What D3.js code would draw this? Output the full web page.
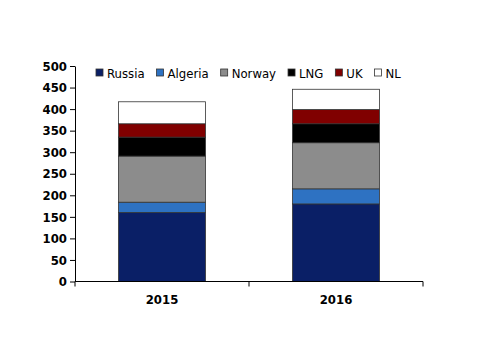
<!DOCTYPE html>
<html>
<head>
<meta charset="utf-8">
<script src="https://cdn.jsdelivr.net/npm/d3@7"></script>
<style>
  body { margin: 0; background: #fff; }
  text { font-family: "DejaVu Sans Condensed", "DejaVu Sans", sans-serif; }
</style>
</head>
<body>
<div id="chart"></div>
<script>
// categories and series
const years = ["2015", "2016"];
const sources = ["Russia", "Algeria", "Norway", "LNG", "UK", "NL"];
const russia = [160, 180];
const algeria = [24, 35];
const norway = [107, 107];
const lng = [44, 44];
const uk = [31, 33];
const nl = [51, 47];
const yTicks = [0, 50, 100, 150, 200, 250, 300, 350, 400, 450, 500];
const colors = ["#0a1f66", "#2e72c2", "#8c8c8c", "#000000", "#800000", "#ffffff"];

const width = 500, height = 354;
const margin = { top: 66, right: 77, bottom: 72, left: 75 };

const svg = d3.select("#chart").append("svg")
  .attr("width", width)
  .attr("height", height);

const rows = years.map((y, i) => ({
  year: y,
  Russia: russia[i], Algeria: algeria[i], Norway: norway[i],
  LNG: lng[i], UK: uk[i], NL: nl[i]
}));

const stacked = d3.stack().keys(sources)(rows);

const x = d3.scaleBand()
  .domain(years)
  .range([margin.left, width - margin.right])
  .paddingInner(0.5)
  .paddingOuter(0.25);

const y = d3.scaleLinear()
  .domain([0, 500])
  .range([height - margin.bottom - 0.5, margin.top]);

const color = d3.scaleOrdinal().domain(sources).range(colors);

// bars
svg.append("g")
  .selectAll("g")
  .data(stacked)
  .join("g")
  .attr("fill", d => color(d.key))
  .selectAll("rect")
  .data(d => d)
  .join("rect")
  .attr("x", d => x(d.data.year))
  .attr("y", d => y(d[1]))
  .attr("width", x.bandwidth())
  .attr("height", d => y(d[0]) - y(d[1]))
  .attr("stroke", "#333")
  .attr("stroke-width", 0.8);

// y axis
const yAxis = svg.append("g")
  .attr("transform", `translate(${margin.left},0)`)
  .call(d3.axisLeft(y).tickValues(yTicks).tickSize(5).tickSizeOuter(0));
yAxis.select(".domain").attr("stroke", "#000");
yAxis.selectAll("text")
  .attr("font-size", 13)
  .attr("font-weight", "bold")
  .attr("fill", "#000")
  .attr("x", -8);

// x axis with ticks between categories
const x0 = height - margin.bottom - 0.5;
const xAxis = svg.append("g");
xAxis.append("line")
  .attr("x1", margin.left).attr("x2", width - margin.right)
  .attr("y1", x0).attr("y2", x0)
  .attr("stroke", "#000");
const bounds = [margin.left, (x(years[0]) + x(years[1]) + x.bandwidth()) / 2, width - margin.right];
xAxis.selectAll("line.tick")
  .data(bounds)
  .join("line")
  .attr("class", "tick")
  .attr("x1", d => d).attr("x2", d => d)
  .attr("y1", x0).attr("y2", x0 + 5)
  .attr("stroke", "#000");
xAxis.selectAll("text")
  .data(years)
  .join("text")
  .attr("x", d => x(d) + x.bandwidth() / 2)
  .attr("y", x0 + 22)
  .attr("text-anchor", "middle")
  .attr("font-size", 13)
  .attr("font-weight", "bold")
  .text(d => d);

// legend
const legend = svg.append("g").attr("transform", "translate(96,73)");
let lx = 0;
sources.forEach(s => {
  const item = legend.append("g").attr("transform", `translate(${lx},0)`);
  item.append("rect")
    .attr("x", 0).attr("y", -4)
    .attr("width", 7).attr("height", 7)
    .attr("fill", color(s))
    .attr("stroke", "#333")
    .attr("stroke-width", 0.8);
  const t = item.append("text")
    .attr("x", 11).attr("y", 4.5)
    .attr("font-size", 13)
    .text(s);
  lx += 11 + t.node().getComputedTextLength() + 12;
});
</script>
</body>
</html>
